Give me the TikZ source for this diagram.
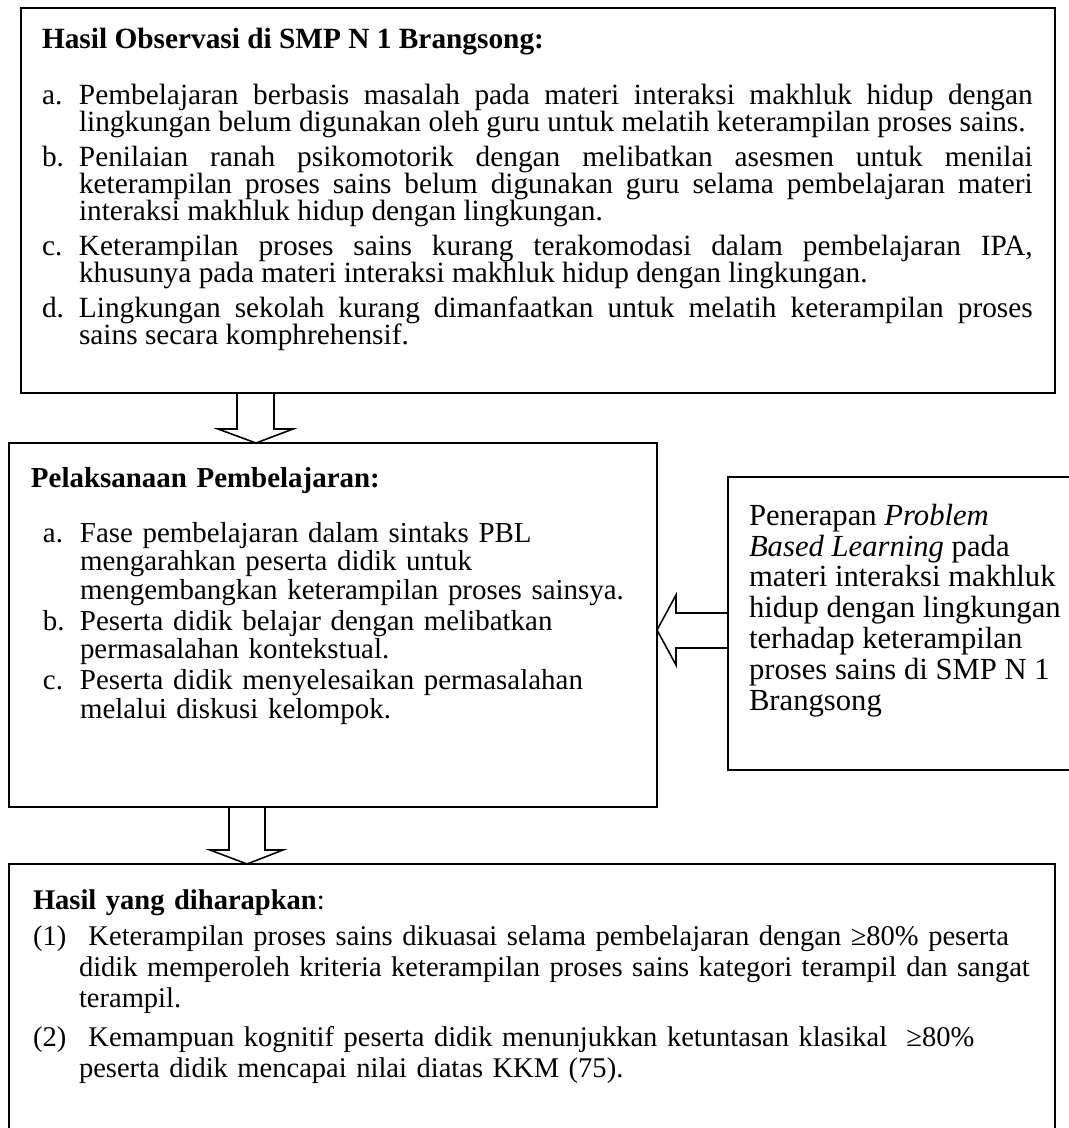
\documentclass[tikz,border=0pt]{standalone}
\usepackage{fontspec}
\setmainfont{Liberation Serif}
\usetikzlibrary{calc}

\newlength{\itmhang}
\newcommand{\itm}[2]{\par\noindent\hangindent=\itmhang\hangafter=1\makebox[\itmhang][l]{#1}#2\par}

\begin{document}
\begin{tikzpicture}[x=0.75pt,y=0.75pt,yscale=-1,xscale=1,
    box/.style={draw, line width=1.2pt, inner sep=0pt, outer sep=0pt, anchor=north west},
    blockarrow/.style={draw, line width=1.2pt, line join=miter},
    boxtext/.style={anchor=north west, inner sep=0pt, outer sep=0pt}]
    \useasboundingbox (0,0) rectangle (1069,1128);
    \clip (0,0) rectangle (1069,1128);

    %Shape: Rectangle
    \node[box, minimum width=775.5pt, minimum height=288.75pt] (obs) at (21,8) {};
    %Shape: Rectangle
    \node[box, minimum width=486pt, minimum height=273pt] (pel) at (9,443) {};
    %Shape: Rectangle
    \node[box, minimum width=262.5pt, minimum height=219.75pt] (pbl) at (728,477) {};
    %Shape: Rectangle
    \node[box, minimum width=784.5pt, minimum height=210pt] (hsl) at (9,864) {};

    %Shape: Down Arrow
    \draw[blockarrow] ($(obs.south west)+(216,0)$) -- ++(0,36) -- ++(-19,0) -- ($(pel.north west)+(247,0)$) -- ++(37,-14) -- ++(-19,0) -- ++(0,-36);
    %Shape: Left Arrow
    \draw[blockarrow] ($(pbl.north west)+(0,136)$) -- ++(-52,0) -- ++(0,-18) -- ($(pel.north east)+(0,187)$) -- ++(19,35) -- ++(0,-17) -- ++(52,0);
    %Shape: Down Arrow
    \draw[blockarrow] ($(pel.south west)+(220,0)$) -- ++(0,43) -- ++(-19,0) -- ($(hsl.north west)+(238,0)$) -- ++(36,-14) -- ++(-18,0) -- ++(0,-43);

    % Text Node
    \node[boxtext, text width=743pt, align=justify, font=\fontsize{22}{20.25}\selectfont] (obstxt) at ($(obs.north west)+(21,20)$) {%
      \lineskiplimit=-10pt\setlength{\parskip}{6pt}\setlength{\itmhang}{27.75pt}%
      \textbf{Hasil Observasi di SMP N 1 Brangsong:}\par\vspace{15.75pt}%
      \itm{a.}{Pembelajaran berbasis masalah pada materi interaksi makhluk hidup dengan\linebreak lingkungan belum digunakan oleh guru untuk melatih keterampilan proses sains.}%
      \itm{b.}{Penilaian ranah psikomotorik dengan melibatkan asesmen untuk menilai\linebreak keterampilan proses sains belum digunakan guru selama pembelajaran materi\linebreak interaksi makhluk hidup dengan lingkungan.}%
      \itm{c.}{Keterampilan proses sains kurang terakomodasi dalam pembelajaran IPA,\linebreak khusunya pada materi interaksi makhluk hidup dengan lingkungan.}%
      \itm{d.}{Lingkungan sekolah kurang dimanfaatkan untuk melatih keterampilan proses\linebreak sains secara komphrehensif.}};

    % Text Node
    \node[boxtext, text width=470pt, align=left, font=\fontsize{21.7}{21.4}\selectfont] (peltxt) at ($(pel.north west)+(22,24)$) {%
      \lineskiplimit=-10pt\setlength{\parskip}{1.9pt}\setlength{\itmhang}{27.75pt}%
      \textbf{Pelaksanaan Pembelajaran:}\par\vspace{17.95pt}%
      \leftskip=9pt%
      \itm{a.}{Fase pembelajaran dalam sintaks PBL\newline mengarahkan peserta didik untuk\newline mengembangkan keterampilan proses sainsya.}%
      \itm{b.}{Peserta didik belajar dengan melibatkan\newline permasalahan kontekstual.}%
      \itm{c.}{Peserta didik menyelesaikan permasalahan\newline melalui diskusi kelompok.}};

    % Text Node
    \node[boxtext, align=left, font=\fontsize{23}{23.1}\selectfont] (pbltxt) at ($(pbl.north west)+(21,27)$) {%
      Penerapan \textit{Problem}\\ \textit{Based Learning} pada\\ materi interaksi makhluk\\ hidup dengan lingkungan\\ terhadap keterampilan\\ proses sains di SMP N 1\\ Brangsong};

    % Text Node
    \node[boxtext, text width=800pt, align=left, font=\fontsize{21.4}{23.6}\selectfont] (hsltxt) at ($(hsl.north west)+(24,26)$) {%
      \lineskiplimit=-10pt\setlength{\parskip}{5pt}\setlength{\itmhang}{34.5pt}%
      \textbf{Hasil yang diharapkan}:\par\vspace{-2.2pt}%
      \itm{(1)}{\ Keterampilan proses sains dikuasai selama pembelajaran dengan ≥80\% peserta\newline didik memperoleh kriteria keterampilan proses sains kategori terampil dan sangat\newline terampil.}%
      \itm{(2)}{\ Kemampuan kognitif peserta didik menunjukkan ketuntasan klasikal \ ≥80\%\newline peserta didik mencapai nilai diatas KKM (75).}};

\end{tikzpicture}
\end{document}
